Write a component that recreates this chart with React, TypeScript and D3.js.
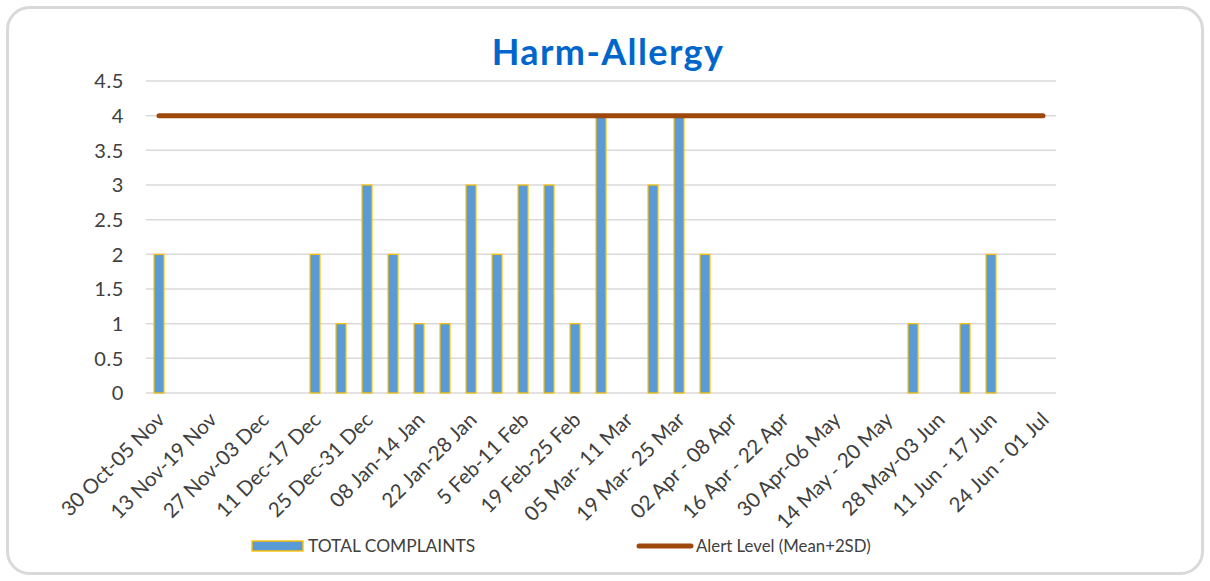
import React, { useRef, useEffect } from "react";
import * as d3 from "d3";

// week buckets, Oct to Jul
const weeks = [
  "30 Oct-05 Nov", "06 Nov-12 Nov", "13 Nov-19 Nov", "20 Nov-26 Nov", "27 Nov-03 Dec",
  "04 Dec-10 Dec", "11 Dec-17 Dec", "18 Dec-24 Dec", "25 Dec-31 Dec", "01 Jan-07 Jan",
  "08 Jan-14 Jan", "15 Jan-21 Jan", "22 Jan-28 Jan", "29 Jan-04 Feb", "5 Feb-11 Feb",
  "12 Feb-18 Feb", "19 Feb-25 Feb", "26 Feb-04 Mar", "05 Mar- 11 Mar", "12 Mar- 18 Mar",
  "19 Mar- 25 Mar", "26 Mar - 01 Apr", "02 Apr - 08 Apr", "09 Apr - 15 Apr", "16 Apr - 22 Apr",
  "23 Apr-29 Apr", "30 Apr-06 May", "07 May - 13 May", "14 May - 20 May", "21 May-27 May",
  "28 May-03 Jun", "04 Jun - 10 Jun", "11 Jun - 17 Jun", "18 Jun - 23 Jun", "24 Jun - 01 Jul",
];

const totalComplaints = [
  2, 0, 0, 0, 0, 0, 2, 1, 3, 2, 1, 1, 3, 2, 3, 3, 1, 4, 0, 3,
  4, 2, 0, 0, 0, 0, 0, 0, 0, 1, 0, 1, 2, 0, 0,
];

const alertLevel = weeks.map(() => 4);

const yTicks = [0, 0.5, 1, 1.5, 2, 2.5, 3, 3.5, 4, 4.5];

const W = 1210;
const H = 581;
const FONT = "Lato, 'Noto Sans', sans-serif";
const TEXT = "#404040";

export default function App() {
  const svgRef = useRef<SVGSVGElement>(null);

  useEffect(() => {
    document.body.style.margin = "0";
    const svg = d3.select(svgRef.current);
    svg.selectAll("*").remove();

    const left = 146, right = 1056, top = 81, bottom = 393;

    const x = d3.scaleBand<string>().domain(weeks).range([left, right]);
    const y = d3.scaleLinear().domain([0, 4.5]).range([bottom, top]);
    const cx = (w: string) => x(w)! + x.bandwidth() / 2;

    // outer frame
    svg.append("rect")
      .attr("x", 7.5).attr("y", 7.5)
      .attr("width", W - 15).attr("height", H - 15)
      .attr("rx", 22)
      .attr("fill", "#fff")
      .attr("stroke", "#d9d9d9")
      .attr("stroke-width", 3);

    svg.append("text")
      .attr("x", 608).attr("y", 65)
      .attr("text-anchor", "middle")
      .attr("font-family", FONT)
      .attr("font-size", 36)
      .attr("font-weight", 700)
      .attr("letter-spacing", 1.4)
      .attr("fill", "#0066cc")
      .text("Harm-Allergy");

    // gridlines + y labels
    const g = svg.append("g");
    g.selectAll("line.grid")
      .data(yTicks)
      .enter()
      .append("line")
      .attr("x1", left).attr("x2", right)
      .attr("y1", (d) => y(d)).attr("y2", (d) => y(d))
      .attr("stroke", "#d9d9d9")
      .attr("stroke-width", 1.5);

    g.selectAll("text.ytick")
      .data(yTicks)
      .enter()
      .append("text")
      .attr("x", 124)
      .attr("y", (d) => y(d))
      .attr("dy", "0.36em")
      .attr("text-anchor", "end")
      .attr("font-family", FONT)
      .attr("font-size", 20)
      .attr("letter-spacing", 0.6)
      .attr("fill", TEXT)
      .text((d) => String(d));

    // bars
    const bw = 10;
    g.selectAll("rect.bar")
      .data(weeks.filter((w, i) => totalComplaints[i] > 0))
      .enter()
      .append("rect")
      .attr("x", (w) => cx(w) - bw / 2)
      .attr("y", (w) => y(totalComplaints[weeks.indexOf(w)]))
      .attr("width", bw)
      .attr("height", (w) => y(0) - y(totalComplaints[weeks.indexOf(w)]))
      .attr("fill", "#5b9bd5")
      .attr("stroke", "#ffc000")
      .attr("stroke-width", 1.2);

    // alert line
    const line = d3.line<number>()
      .x((d, i) => cx(weeks[i]))
      .y((d) => y(d));
    g.append("path")
      .attr("d", line(alertLevel))
      .attr("fill", "none")
      .attr("stroke", "#9e480e")
      .attr("stroke-width", 5)
      .attr("stroke-linecap", "round");

    // x labels, every other week
    g.selectAll("text.xtick")
      .data(weeks.filter((w, i) => i % 2 === 0))
      .enter()
      .append("text")
      .attr("transform", (w) => `translate(${cx(w) + 2},${bottom + 23}) rotate(-45)`)
      .attr("text-anchor", "end")
      .attr("dy", "0.35em")
      .attr("font-family", FONT)
      .attr("font-size", 20.5)
      .attr("fill", TEXT)
      .text((w) => w);

    // legend
    const lg = svg.append("g");
    lg.append("rect")
      .attr("x", 252).attr("y", 541)
      .attr("width", 51).attr("height", 10)
      .attr("fill", "#5b9bd5")
      .attr("stroke", "#ffc000")
      .attr("stroke-width", 1.4);
    lg.append("text")
      .attr("x", 308).attr("y", 546).attr("dy", "0.35em")
      .attr("font-family", FONT).attr("font-size", 17.4).attr("fill", TEXT)
      .text("TOTAL COMPLAINTS");
    lg.append("line")
      .attr("x1", 639).attr("x2", 691)
      .attr("y1", 546).attr("y2", 546)
      .attr("stroke", "#9e480e")
      .attr("stroke-width", 5)
      .attr("stroke-linecap", "round");
    lg.append("text")
      .attr("x", 696).attr("y", 546).attr("dy", "0.35em")
      .attr("font-family", FONT).attr("font-size", 16.8).attr("fill", TEXT)
      .text("Alert Level (Mean+2SD)");
  }, []);

  return (
    <svg
      ref={svgRef}
      width={W}
      height={H}
      viewBox={`0 0 ${W} ${H}`}
      style={{ display: "block", position: "absolute", left: 0, top: 0 }}
    />
  );
}
